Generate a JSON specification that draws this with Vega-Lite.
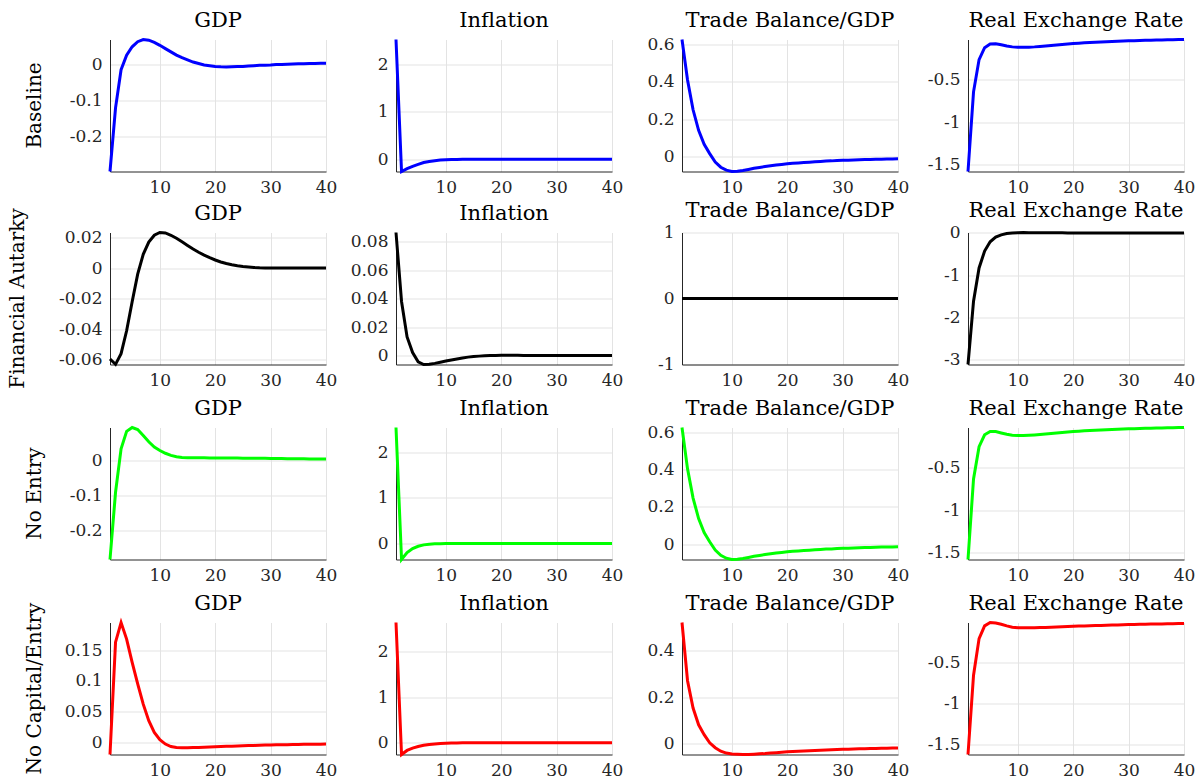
{
"$schema": "https://vega.github.io/schema/vega-lite/v6.json",
"background": "white",
"padding": {"left": 3, "top": 9.5, "right": 2, "bottom": 0},
"spacing": 2,
"config": {
  "view": {"stroke": null},
  "font": "DejaVu Serif",
  "concat": {"spacing": 7},
  "axis": {"domainColor": "#262626", "domainWidth": 1, "ticks": false, "grid": true, "gridColor": "#e3e3e3", "gridWidth": 1,
           "labelFont": "DejaVu Serif", "labelFontSize": 17, "labelColor": "#262626", "labelPadding": 8, "labelFlush": false, "labelOverlap": false,
           "titleFont": "DejaVu Serif", "titleFontWeight": "normal", "titleColor": "#000000",
           "format": "~r", "labelExpr": "replace(datum.label, '\u2212', '-')"},
  "axisY": {"minExtent": 52, "maxExtent": 52},
  "axisX": {"minExtent": 26, "maxExtent": 26},
  "title": {"font": "DejaVu Serif", "fontSize": 21, "fontWeight": "normal", "color": "#000000", "anchor": "middle", "frame": "group", "offset": 3},
  "text": {"font": "DejaVu Serif", "fontSize": 20, "color": "#000000", "angle": 270, "align": "center", "baseline": "middle"},
  "line": {"strokeWidth": 3}
},
"data": {"values": [
{"t":1,"s":"B","gdp":-0.295,"inf":2.52,"tb":0.627,"rer":-1.58},
{"t":2,"s":"B","gdp":-0.12,"inf":-0.26,"tb":0.41,"rer":-0.64},
{"t":3,"s":"B","gdp":-0.015,"inf":-0.2,"tb":0.25,"rer":-0.26},
{"t":4,"s":"B","gdp":0.025,"inf":-0.15,"tb":0.14,"rer":-0.12},
{"t":5,"s":"B","gdp":0.048,"inf":-0.11,"tb":0.065,"rer":-0.075},
{"t":6,"s":"B","gdp":0.062,"inf":-0.07,"tb":0.015,"rer":-0.072},
{"t":7,"s":"B","gdp":0.068,"inf":-0.048,"tb":-0.03,"rer":-0.085},
{"t":8,"s":"B","gdp":0.066,"inf":-0.032,"tb":-0.058,"rer":-0.1},
{"t":9,"s":"B","gdp":0.06,"inf":-0.02,"tb":-0.074,"rer":-0.11},
{"t":10,"s":"B","gdp":0.052,"inf":-0.012,"tb":-0.081,"rer":-0.115},
{"t":11,"s":"B","gdp":0.043,"inf":-0.008,"tb":-0.08,"rer":-0.115},
{"t":12,"s":"B","gdp":0.034,"inf":-0.005,"tb":-0.076,"rer":-0.113},
{"t":13,"s":"B","gdp":0.025,"inf":-0.003,"tb":-0.07,"rer":-0.11},
{"t":14,"s":"B","gdp":0.018,"inf":-0.002,"tb":-0.064,"rer":-0.105},
{"t":15,"s":"B","gdp":0.012,"inf":-0.001,"tb":-0.059,"rer":-0.1},
{"t":16,"s":"B","gdp":0.006,"inf":-0.0005,"tb":-0.054,"rer":-0.094},
{"t":17,"s":"B","gdp":0.002,"inf":0,"tb":-0.05,"rer":-0.088},
{"t":18,"s":"B","gdp":-0.002,"inf":0,"tb":-0.046,"rer":-0.082},
{"t":19,"s":"B","gdp":-0.004,"inf":0,"tb":-0.043,"rer":-0.076},
{"t":20,"s":"B","gdp":-0.006,"inf":0,"tb":-0.04,"rer":-0.07},
{"t":21,"s":"B","gdp":-0.007,"inf":0,"tb":-0.037,"rer":-0.066},
{"t":22,"s":"B","gdp":-0.0075,"inf":0,"tb":-0.035,"rer":-0.062},
{"t":23,"s":"B","gdp":-0.007,"inf":0,"tb":-0.033,"rer":-0.058},
{"t":24,"s":"B","gdp":-0.0065,"inf":0,"tb":-0.031,"rer":-0.055},
{"t":25,"s":"B","gdp":-0.006,"inf":0,"tb":-0.029,"rer":-0.052},
{"t":26,"s":"B","gdp":-0.005,"inf":0,"tb":-0.027,"rer":-0.049},
{"t":27,"s":"B","gdp":-0.004,"inf":0,"tb":-0.025,"rer":-0.046},
{"t":28,"s":"B","gdp":-0.003,"inf":0,"tb":-0.024,"rer":-0.043},
{"t":29,"s":"B","gdp":-0.0025,"inf":0,"tb":-0.022,"rer":-0.041},
{"t":30,"s":"B","gdp":-0.002,"inf":0,"tb":-0.021,"rer":-0.039},
{"t":31,"s":"B","gdp":-0.001,"inf":0,"tb":-0.02,"rer":-0.037},
{"t":32,"s":"B","gdp":-0.0005,"inf":0,"tb":-0.019,"rer":-0.035},
{"t":33,"s":"B","gdp":0,"inf":0,"tb":-0.018,"rer":-0.033},
{"t":34,"s":"B","gdp":0.0005,"inf":0,"tb":-0.017,"rer":-0.031},
{"t":35,"s":"B","gdp":0.001,"inf":0,"tb":-0.016,"rer":-0.03},
{"t":36,"s":"B","gdp":0.0015,"inf":0,"tb":-0.0155,"rer":-0.028},
{"t":37,"s":"B","gdp":0.002,"inf":0,"tb":-0.015,"rer":-0.027},
{"t":38,"s":"B","gdp":0.002,"inf":0,"tb":-0.014,"rer":-0.025},
{"t":39,"s":"B","gdp":0.0025,"inf":0,"tb":-0.0135,"rer":-0.024},
{"t":40,"s":"B","gdp":0.0025,"inf":0,"tb":-0.013,"rer":-0.023},
{"t":1,"s":"FA","gdp":-0.0595,"inf":0.0866,"tb":0,"rer":-3.12},
{"t":2,"s":"FA","gdp":-0.063,"inf":0.038,"tb":0,"rer":-1.62},
{"t":3,"s":"FA","gdp":-0.056,"inf":0.013,"tb":0,"rer":-0.83},
{"t":4,"s":"FA","gdp":-0.041,"inf":0.002,"tb":0,"rer":-0.43},
{"t":5,"s":"FA","gdp":-0.022,"inf":-0.0045,"tb":0,"rer":-0.21},
{"t":6,"s":"FA","gdp":-0.004,"inf":-0.0064,"tb":0,"rer":-0.1},
{"t":7,"s":"FA","gdp":0.009,"inf":-0.0062,"tb":0,"rer":-0.045},
{"t":8,"s":"FA","gdp":0.017,"inf":-0.0056,"tb":0,"rer":-0.015},
{"t":9,"s":"FA","gdp":0.0215,"inf":-0.0048,"tb":0,"rer":0},
{"t":10,"s":"FA","gdp":0.0233,"inf":-0.004,"tb":0,"rer":0.006},
{"t":11,"s":"FA","gdp":0.023,"inf":-0.0032,"tb":0,"rer":0.008},
{"t":12,"s":"FA","gdp":0.0215,"inf":-0.0025,"tb":0,"rer":0.007},
{"t":13,"s":"FA","gdp":0.0195,"inf":-0.0018,"tb":0,"rer":0.006},
{"t":14,"s":"FA","gdp":0.0172,"inf":-0.0012,"tb":0,"rer":0.005},
{"t":15,"s":"FA","gdp":0.0148,"inf":-0.0008,"tb":0,"rer":0.004},
{"t":16,"s":"FA","gdp":0.0125,"inf":-0.0005,"tb":0,"rer":0.003},
{"t":17,"s":"FA","gdp":0.0104,"inf":-0.0003,"tb":0,"rer":0.002},
{"t":18,"s":"FA","gdp":0.0085,"inf":-0.0001,"tb":0,"rer":0.002},
{"t":19,"s":"FA","gdp":0.0068,"inf":0,"tb":0,"rer":0.001},
{"t":20,"s":"FA","gdp":0.0053,"inf":0.0001,"tb":0,"rer":0.001},
{"t":21,"s":"FA","gdp":0.004,"inf":0.0001,"tb":0,"rer":0.001},
{"t":22,"s":"FA","gdp":0.003,"inf":0.0001,"tb":0,"rer":0},
{"t":23,"s":"FA","gdp":0.0022,"inf":0.0001,"tb":0,"rer":0},
{"t":24,"s":"FA","gdp":0.0015,"inf":0,"tb":0,"rer":0},
{"t":25,"s":"FA","gdp":0.001,"inf":0,"tb":0,"rer":0},
{"t":26,"s":"FA","gdp":0.0007,"inf":0,"tb":0,"rer":0},
{"t":27,"s":"FA","gdp":0.0004,"inf":0,"tb":0,"rer":0},
{"t":28,"s":"FA","gdp":0.0002,"inf":0,"tb":0,"rer":0},
{"t":29,"s":"FA","gdp":0.0001,"inf":0,"tb":0,"rer":0},
{"t":30,"s":"FA","gdp":0,"inf":0,"tb":0,"rer":0},
{"t":31,"s":"FA","gdp":0,"inf":0,"tb":0,"rer":0},
{"t":32,"s":"FA","gdp":0,"inf":0,"tb":0,"rer":0},
{"t":33,"s":"FA","gdp":0,"inf":0,"tb":0,"rer":0},
{"t":34,"s":"FA","gdp":0,"inf":0,"tb":0,"rer":0},
{"t":35,"s":"FA","gdp":0,"inf":0,"tb":0,"rer":0},
{"t":36,"s":"FA","gdp":0,"inf":0,"tb":0,"rer":0},
{"t":37,"s":"FA","gdp":0,"inf":0,"tb":0,"rer":0},
{"t":38,"s":"FA","gdp":0,"inf":0,"tb":0,"rer":0},
{"t":39,"s":"FA","gdp":0,"inf":0,"tb":0,"rer":0},
{"t":40,"s":"FA","gdp":0,"inf":0,"tb":0,"rer":0},
{"t":1,"s":"NE","gdp":-0.283,"inf":2.54,"tb":0.627,"rer":-1.58},
{"t":2,"s":"NE","gdp":-0.09,"inf":-0.35,"tb":0.405,"rer":-0.63},
{"t":3,"s":"NE","gdp":0.035,"inf":-0.2,"tb":0.248,"rer":-0.25},
{"t":4,"s":"NE","gdp":0.085,"inf":-0.11,"tb":0.138,"rer":-0.11},
{"t":5,"s":"NE","gdp":0.096,"inf":-0.06,"tb":0.063,"rer":-0.07},
{"t":6,"s":"NE","gdp":0.09,"inf":-0.03,"tb":0.013,"rer":-0.072},
{"t":7,"s":"NE","gdp":0.073,"inf":-0.015,"tb":-0.031,"rer":-0.088},
{"t":8,"s":"NE","gdp":0.055,"inf":-0.007,"tb":-0.059,"rer":-0.104},
{"t":9,"s":"NE","gdp":0.04,"inf":-0.003,"tb":-0.075,"rer":-0.114},
{"t":10,"s":"NE","gdp":0.03,"inf":-0.001,"tb":-0.082,"rer":-0.118},
{"t":11,"s":"NE","gdp":0.022,"inf":0,"tb":-0.081,"rer":-0.118},
{"t":12,"s":"NE","gdp":0.016,"inf":0,"tb":-0.077,"rer":-0.115},
{"t":13,"s":"NE","gdp":0.012,"inf":0,"tb":-0.071,"rer":-0.111},
{"t":14,"s":"NE","gdp":0.01,"inf":0,"tb":-0.065,"rer":-0.106},
{"t":15,"s":"NE","gdp":0.0095,"inf":0,"tb":-0.06,"rer":-0.1},
{"t":16,"s":"NE","gdp":0.009,"inf":0,"tb":-0.055,"rer":-0.094},
{"t":17,"s":"NE","gdp":0.009,"inf":0,"tb":-0.051,"rer":-0.088},
{"t":18,"s":"NE","gdp":0.0088,"inf":0,"tb":-0.047,"rer":-0.082},
{"t":19,"s":"NE","gdp":0.0087,"inf":0,"tb":-0.044,"rer":-0.077},
{"t":20,"s":"NE","gdp":0.0086,"inf":0,"tb":-0.041,"rer":-0.072},
{"t":21,"s":"NE","gdp":0.0085,"inf":0,"tb":-0.038,"rer":-0.067},
{"t":22,"s":"NE","gdp":0.0084,"inf":0,"tb":-0.036,"rer":-0.063},
{"t":23,"s":"NE","gdp":0.0082,"inf":0,"tb":-0.034,"rer":-0.059},
{"t":24,"s":"NE","gdp":0.0081,"inf":0,"tb":-0.032,"rer":-0.056},
{"t":25,"s":"NE","gdp":0.008,"inf":0,"tb":-0.03,"rer":-0.053},
{"t":26,"s":"NE","gdp":0.0078,"inf":0,"tb":-0.028,"rer":-0.05},
{"t":27,"s":"NE","gdp":0.0077,"inf":0,"tb":-0.026,"rer":-0.047},
{"t":28,"s":"NE","gdp":0.0075,"inf":0,"tb":-0.025,"rer":-0.044},
{"t":29,"s":"NE","gdp":0.0074,"inf":0,"tb":-0.023,"rer":-0.042},
{"t":30,"s":"NE","gdp":0.0072,"inf":0,"tb":-0.022,"rer":-0.04},
{"t":31,"s":"NE","gdp":0.007,"inf":0,"tb":-0.021,"rer":-0.038},
{"t":32,"s":"NE","gdp":0.0068,"inf":0,"tb":-0.02,"rer":-0.036},
{"t":33,"s":"NE","gdp":0.0066,"inf":0,"tb":-0.019,"rer":-0.034},
{"t":34,"s":"NE","gdp":0.0064,"inf":0,"tb":-0.018,"rer":-0.032},
{"t":35,"s":"NE","gdp":0.0062,"inf":0,"tb":-0.017,"rer":-0.031},
{"t":36,"s":"NE","gdp":0.006,"inf":0,"tb":-0.016,"rer":-0.029},
{"t":37,"s":"NE","gdp":0.0058,"inf":0,"tb":-0.0155,"rer":-0.028},
{"t":38,"s":"NE","gdp":0.0056,"inf":0,"tb":-0.015,"rer":-0.026},
{"t":39,"s":"NE","gdp":0.0054,"inf":0,"tb":-0.0145,"rer":-0.025},
{"t":40,"s":"NE","gdp":0.0052,"inf":0,"tb":-0.014,"rer":-0.024},
{"t":1,"s":"NCE","gdp":-0.02,"inf":2.65,"tb":0.519,"rer":-1.617},
{"t":2,"s":"NCE","gdp":0.163,"inf":-0.26,"tb":0.27,"rer":-0.66},
{"t":3,"s":"NCE","gdp":0.195,"inf":-0.17,"tb":0.153,"rer":-0.217},
{"t":4,"s":"NCE","gdp":0.168,"inf":-0.12,"tb":0.081,"rer":-0.064},
{"t":5,"s":"NCE","gdp":0.13,"inf":-0.085,"tb":0.039,"rer":-0.023},
{"t":6,"s":"NCE","gdp":0.095,"inf":-0.058,"tb":0.004,"rer":-0.03},
{"t":7,"s":"NCE","gdp":0.062,"inf":-0.04,"tb":-0.017,"rer":-0.044},
{"t":8,"s":"NCE","gdp":0.035,"inf":-0.026,"tb":-0.032,"rer":-0.064},
{"t":9,"s":"NCE","gdp":0.016,"inf":-0.017,"tb":-0.04,"rer":-0.08},
{"t":10,"s":"NCE","gdp":0.004,"inf":-0.011,"tb":-0.044,"rer":-0.085},
{"t":11,"s":"NCE","gdp":-0.003,"inf":-0.007,"tb":-0.045,"rer":-0.087},
{"t":12,"s":"NCE","gdp":-0.007,"inf":-0.004,"tb":-0.046,"rer":-0.087},
{"t":13,"s":"NCE","gdp":-0.0085,"inf":-0.002,"tb":-0.0455,"rer":-0.086},
{"t":14,"s":"NCE","gdp":-0.009,"inf":-0.001,"tb":-0.0445,"rer":-0.084},
{"t":15,"s":"NCE","gdp":-0.009,"inf":0,"tb":-0.043,"rer":-0.082},
{"t":16,"s":"NCE","gdp":-0.0088,"inf":0,"tb":-0.042,"rer":-0.08},
{"t":17,"s":"NCE","gdp":-0.0085,"inf":0,"tb":-0.04,"rer":-0.077},
{"t":18,"s":"NCE","gdp":-0.008,"inf":0,"tb":-0.038,"rer":-0.074},
{"t":19,"s":"NCE","gdp":-0.0077,"inf":0,"tb":-0.036,"rer":-0.071},
{"t":20,"s":"NCE","gdp":-0.0073,"inf":0,"tb":-0.034,"rer":-0.068},
{"t":21,"s":"NCE","gdp":-0.007,"inf":0,"tb":-0.033,"rer":-0.066},
{"t":22,"s":"NCE","gdp":-0.0067,"inf":0,"tb":-0.032,"rer":-0.064},
{"t":23,"s":"NCE","gdp":-0.0064,"inf":0,"tb":-0.031,"rer":-0.062},
{"t":24,"s":"NCE","gdp":-0.006,"inf":0,"tb":-0.03,"rer":-0.06},
{"t":25,"s":"NCE","gdp":-0.0058,"inf":0,"tb":-0.029,"rer":-0.058},
{"t":26,"s":"NCE","gdp":-0.0055,"inf":0,"tb":-0.028,"rer":-0.056},
{"t":27,"s":"NCE","gdp":-0.0052,"inf":0,"tb":-0.027,"rer":-0.054},
{"t":28,"s":"NCE","gdp":-0.005,"inf":0,"tb":-0.026,"rer":-0.052},
{"t":29,"s":"NCE","gdp":-0.0047,"inf":0,"tb":-0.025,"rer":-0.05},
{"t":30,"s":"NCE","gdp":-0.0045,"inf":0,"tb":-0.024,"rer":-0.048},
{"t":31,"s":"NCE","gdp":-0.0043,"inf":0,"tb":-0.023,"rer":-0.047},
{"t":32,"s":"NCE","gdp":-0.0041,"inf":0,"tb":-0.022,"rer":-0.045},
{"t":33,"s":"NCE","gdp":-0.004,"inf":0,"tb":-0.0215,"rer":-0.044},
{"t":34,"s":"NCE","gdp":-0.0038,"inf":0,"tb":-0.021,"rer":-0.042},
{"t":35,"s":"NCE","gdp":-0.0037,"inf":0,"tb":-0.0205,"rer":-0.041},
{"t":36,"s":"NCE","gdp":-0.0035,"inf":0,"tb":-0.02,"rer":-0.04},
{"t":37,"s":"NCE","gdp":-0.0034,"inf":0,"tb":-0.0195,"rer":-0.039},
{"t":38,"s":"NCE","gdp":-0.0033,"inf":0,"tb":-0.019,"rer":-0.037},
{"t":39,"s":"NCE","gdp":-0.0032,"inf":0,"tb":-0.0185,"rer":-0.036},
{"t":40,"s":"NCE","gdp":-0.003,"inf":0,"tb":-0.018,"rer":-0.035}
]},
"vconcat": [
{"hconcat": [
{"width":48,"height":132,"data":{"values":[{"label":"Baseline"}]},"mark":{"type":"text","dy":8},"encoding":{"text":{"field":"label"}}},
{"width":216,"height":132,"title":"GDP","transform":[{"filter":"datum.s === 'B'"}],"mark":{"type":"line","color":"#0000ff"},
 "encoding":{"x":{"field":"t","type":"quantitative","scale":{"domain":[1,40],"nice":false,"zero":false},"axis":{"values":[10,20,30,40],"title":null}},
 "y":{"field":"gdp","type":"quantitative","scale":{"domain":[-0.295,0.068],"nice":false,"zero":false},"axis":{"values":[-0.2,-0.1,0],"title":null}}}},
{"width":216,"height":132,"title":"Inflation","transform":[{"filter":"datum.s === 'B'"}],"mark":{"type":"line","color":"#0000ff"},
 "encoding":{"x":{"field":"t","type":"quantitative","scale":{"domain":[1,40],"nice":false,"zero":false},"axis":{"values":[10,20,30,40],"title":null}},
 "y":{"field":"inf","type":"quantitative","scale":{"domain":[-0.26,2.52],"nice":false,"zero":false},"axis":{"values":[0,1,2],"title":null}}}},
{"width":216,"height":132,"title":"Trade Balance/GDP","transform":[{"filter":"datum.s === 'B'"}],"mark":{"type":"line","color":"#0000ff"},
 "encoding":{"x":{"field":"t","type":"quantitative","scale":{"domain":[1,40],"nice":false,"zero":false},"axis":{"values":[10,20,30,40],"title":null}},
 "y":{"field":"tb","type":"quantitative","scale":{"domain":[-0.081,0.627],"nice":false,"zero":false},"axis":{"values":[0,0.2,0.4,0.6],"title":null}}}},
{"width":216,"height":132,"title":"Real Exchange Rate","transform":[{"filter":"datum.s === 'B'"}],"mark":{"type":"line","color":"#0000ff"},
 "encoding":{"x":{"field":"t","type":"quantitative","scale":{"domain":[1,40],"nice":false,"zero":false},"axis":{"values":[10,20,30,40],"title":null}},
 "y":{"field":"rer","type":"quantitative","scale":{"domain":[-1.58,-0.023],"nice":false,"zero":false},"axis":{"values":[-1.5,-1,-0.5],"title":null}}}}
]},
{"spacing": 7,
 "vconcat": [
{"hconcat": [
{"width":48,"height":132,"data":{"values":[{"label":"Financial Autarky"}]},"mark":{"type":"text","dy":-9},"encoding":{"text":{"field":"label"}}},
{"width":216,"height":132,"title":"GDP","transform":[{"filter":"datum.s === 'FA'"}],"mark":{"type":"line","color":"#000000"},
 "encoding":{"x":{"field":"t","type":"quantitative","scale":{"domain":[1,40],"nice":false,"zero":false},"axis":{"values":[10,20,30,40],"title":null}},
 "y":{"field":"gdp","type":"quantitative","scale":{"domain":[-0.0631,0.0233],"nice":false,"zero":false},"axis":{"values":[-0.06,-0.04,-0.02,0,0.02],"title":null}}}},
{"width":216,"height":132,"title":"Inflation","transform":[{"filter":"datum.s === 'FA'"}],"mark":{"type":"line","color":"#000000"},
 "encoding":{"x":{"field":"t","type":"quantitative","scale":{"domain":[1,40],"nice":false,"zero":false},"axis":{"values":[10,20,30,40],"title":null}},
 "y":{"field":"inf","type":"quantitative","scale":{"domain":[-0.0064,0.0866],"nice":false,"zero":false},"axis":{"values":[0,0.02,0.04,0.06,0.08],"title":null}}}},
{"width":216,"height":132,"title":"Trade Balance/GDP","transform":[{"filter":"datum.s === 'FA'"}],"mark":{"type":"line","color":"#000000"},
 "encoding":{"x":{"field":"t","type":"quantitative","scale":{"domain":[1,40],"nice":false,"zero":false},"axis":{"values":[10,20,30,40],"title":null}},
 "y":{"field":"tb","type":"quantitative","scale":{"domain":[-1,1],"nice":false,"zero":false},"axis":{"values":[-1,0,1],"title":null}}}},
{"width":216,"height":132,"title":"Real Exchange Rate","transform":[{"filter":"datum.s === 'FA'"}],"mark":{"type":"line","color":"#000000"},
 "encoding":{"x":{"field":"t","type":"quantitative","scale":{"domain":[1,40],"nice":false,"zero":false},"axis":{"values":[10,20,30,40],"title":null}},
 "y":{"field":"rer","type":"quantitative","scale":{"domain":[-3.12,0.01],"nice":false,"zero":false},"axis":{"values":[-3,-2,-1,0],"title":null}}}}
]},
{"hconcat": [
{"width":48,"height":132,"data":{"values":[{"label":"No Entry"}]},"mark":{"type":"text","dy":8},"encoding":{"text":{"field":"label"}}},
{"width":216,"height":132,"title":"GDP","transform":[{"filter":"datum.s === 'NE'"}],"mark":{"type":"line","color":"#00ff00"},
 "encoding":{"x":{"field":"t","type":"quantitative","scale":{"domain":[1,40],"nice":false,"zero":false},"axis":{"values":[10,20,30,40],"title":null}},
 "y":{"field":"gdp","type":"quantitative","scale":{"domain":[-0.283,0.096],"nice":false,"zero":false},"axis":{"values":[-0.2,-0.1,0],"title":null}}}},
{"width":216,"height":132,"title":"Inflation","transform":[{"filter":"datum.s === 'NE'"}],"mark":{"type":"line","color":"#00ff00"},
 "encoding":{"x":{"field":"t","type":"quantitative","scale":{"domain":[1,40],"nice":false,"zero":false},"axis":{"values":[10,20,30,40],"title":null}},
 "y":{"field":"inf","type":"quantitative","scale":{"domain":[-0.35,2.54],"nice":false,"zero":false},"axis":{"values":[0,1,2],"title":null}}}},
{"width":216,"height":132,"title":"Trade Balance/GDP","transform":[{"filter":"datum.s === 'NE'"}],"mark":{"type":"line","color":"#00ff00"},
 "encoding":{"x":{"field":"t","type":"quantitative","scale":{"domain":[1,40],"nice":false,"zero":false},"axis":{"values":[10,20,30,40],"title":null}},
 "y":{"field":"tb","type":"quantitative","scale":{"domain":[-0.082,0.627],"nice":false,"zero":false},"axis":{"values":[0,0.2,0.4,0.6],"title":null}}}},
{"width":216,"height":132,"title":"Real Exchange Rate","transform":[{"filter":"datum.s === 'NE'"}],"mark":{"type":"line","color":"#00ff00"},
 "encoding":{"x":{"field":"t","type":"quantitative","scale":{"domain":[1,40],"nice":false,"zero":false},"axis":{"values":[10,20,30,40],"title":null}},
 "y":{"field":"rer","type":"quantitative","scale":{"domain":[-1.58,-0.024],"nice":false,"zero":false},"axis":{"values":[-1.5,-1,-0.5],"title":null}}}}
]},
{"hconcat": [
{"width":48,"height":132,"data":{"values":[{"label":"No Capital/Entry"}]},"mark":{"type":"text","dy":8},"encoding":{"text":{"field":"label"}}},
{"width":216,"height":132,"title":"GDP","transform":[{"filter":"datum.s === 'NCE'"}],"mark":{"type":"line","color":"#ff0000"},
 "encoding":{"x":{"field":"t","type":"quantitative","scale":{"domain":[1,40],"nice":false,"zero":false},"axis":{"values":[10,20,30,40],"title":null}},
 "y":{"field":"gdp","type":"quantitative","scale":{"domain":[-0.02,0.195],"nice":false,"zero":false},"axis":{"values":[0,0.05,0.1,0.15],"title":null}}}},
{"width":216,"height":132,"title":"Inflation","transform":[{"filter":"datum.s === 'NCE'"}],"mark":{"type":"line","color":"#ff0000"},
 "encoding":{"x":{"field":"t","type":"quantitative","scale":{"domain":[1,40],"nice":false,"zero":false},"axis":{"values":[10,20,30,40],"title":null}},
 "y":{"field":"inf","type":"quantitative","scale":{"domain":[-0.26,2.65],"nice":false,"zero":false},"axis":{"values":[0,1,2],"title":null}}}},
{"width":216,"height":132,"title":"Trade Balance/GDP","transform":[{"filter":"datum.s === 'NCE'"}],"mark":{"type":"line","color":"#ff0000"},
 "encoding":{"x":{"field":"t","type":"quantitative","scale":{"domain":[1,40],"nice":false,"zero":false},"axis":{"values":[10,20,30,40],"title":null}},
 "y":{"field":"tb","type":"quantitative","scale":{"domain":[-0.046,0.519],"nice":false,"zero":false},"axis":{"values":[0,0.2,0.4],"title":null}}}},
{"width":216,"height":132,"title":"Real Exchange Rate","transform":[{"filter":"datum.s === 'NCE'"}],"mark":{"type":"line","color":"#ff0000"},
 "encoding":{"x":{"field":"t","type":"quantitative","scale":{"domain":[1,40],"nice":false,"zero":false},"axis":{"values":[10,20,30,40],"title":null}},
 "y":{"field":"rer","type":"quantitative","scale":{"domain":[-1.617,-0.023],"nice":false,"zero":false},"axis":{"values":[-1.5,-1,-0.5],"title":null}}}}
]}
]}
]
}
